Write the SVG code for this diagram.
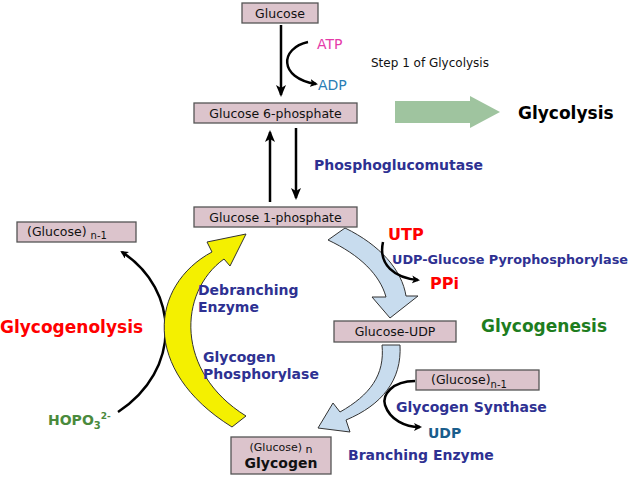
<svg xmlns="http://www.w3.org/2000/svg" width="638" height="477" viewBox="0 0 638 477">
<defs>
<style>
text{font-family:"DejaVu Sans",Verdana,sans-serif}
.box rect{fill:#dcc4cc;stroke:#555;stroke-width:1.3}
.bt{font-size:12.5px;fill:#111}
.en{font-size:14px;font-weight:bold;fill:#2e3192}
.ln{fill:none;stroke:#000;stroke-width:2.5}
</style>
<marker id="ah" markerWidth="8" markerHeight="8" refX="6" refY="4" orient="auto" markerUnits="userSpaceOnUse"><path d="M0,0 L8,4 L0,8 L2,4 Z" fill="#000"/></marker>
<marker id="ahs" markerWidth="12" markerHeight="10" refX="10" refY="5" orient="auto" markerUnits="userSpaceOnUse"><path d="M0,0 L12,5 L0,10 L3,5 Z" fill="#000"/></marker>
</defs>
<g id="connectors">
<line class="ln" x1="281" y1="25" x2="281" y2="95" marker-end="url(#ahs)"/>
<path class="ln" d="M308,42 C280,48 278,78 316,84" marker-end="url(#ah)"/>
<line class="ln" x1="270" y1="202" x2="270" y2="132" marker-end="url(#ahs)"/>
<line class="ln" x1="296" y1="128" x2="296" y2="198" marker-end="url(#ahs)"/>
<path d="M395,101 L470,101 L470,96 L500,112 L470,128 L470,123 L395,123 Z" fill="#9fc49f"/>
<path class="ln" d="M118,412 C182,370 180,290 122,252" marker-end="url(#ah)"/>
<path d="M232,427 C140,370 150,285 212,252 L207,242 L246,234 L230,266 L224,259 C178,292 175,372 246,416 Z" fill="#f4f000" stroke="#333" stroke-width="1"/>
<path d="M328,240 L345,228 C380,245 402,270 406,296 L418,296 L390,318 L372,297 L386,297 C380,275 360,255 328,240 Z" fill="#c8dcee" stroke="#333" stroke-width="1"/>
<path class="ln" d="M383,242 C378,265 395,278 418,280" marker-end="url(#ah)"/>
<path d="M382,345 L400,345 C402,380 382,405 346,420 L350,432 L318,428 L333,403 L340,412 C370,395 385,375 382,345 Z" fill="#c8dcee" stroke="#333" stroke-width="1"/>
<path class="ln" d="M415,381 C392,381 382,395 385,405 C390,420 405,427 420,427" marker-end="url(#ah)"/>
</g>
<g id="glucose" class="box"><rect x="242" y="3" width="76" height="20"/><text class="bt" x="280" y="17.5" text-anchor="middle">Glucose</text></g>
<g id="g6p" class="box"><rect x="194" y="103" width="163" height="20"/><text class="bt" x="275.5" y="117.5" text-anchor="middle">Glucose 6-phosphate</text></g>
<g id="g1p" class="box"><rect x="194" y="207" width="163" height="20"/><text class="bt" x="275.5" y="221.5" text-anchor="middle">Glucose 1-phosphate</text></g>
<g id="glcn1-left" class="box"><rect x="17" y="222" width="119" height="20"/><text class="bt" x="27" y="236">(Glucose) <tspan font-size="10" dy="3">n-1</tspan></text></g>
<g id="glcudp" class="box"><rect x="334" y="321" width="122" height="21"/><text class="bt" x="395" y="336" text-anchor="middle">Glucose-UDP</text></g>
<g id="glcn1-right" class="box"><rect x="416" y="370" width="123" height="20"/><text class="bt" x="431" y="384">(Glucose)<tspan font-size="10" dy="4">n-1</tspan></text></g>
<g id="glycogen" class="box"><rect x="231" y="437" width="100" height="37"/><text x="281" y="451" text-anchor="middle" font-size="11" fill="#111">(Glucose)<tspan dy="2" font-size="11"> n</tspan></text><text x="281" y="468" text-anchor="middle" font-size="14" font-weight="bold" fill="#111">Glycogen</text></g>
<g id="labels">
<text x="317" y="49" font-size="14" fill="#e53aa8">ATP</text>
<text x="318" y="90" font-size="14" fill="#2a7db5">ADP</text>
<text x="371" y="67" font-size="12" fill="#111">Step 1 of Glycolysis</text>
<text x="518" y="119" font-size="17" font-weight="bold" fill="#000">Glycolysis</text>
<text class="en" x="314" y="170">Phosphoglucomutase</text>
<text x="388" y="240" font-size="16" font-weight="bold" fill="#f00">UTP</text>
<text class="en" x="392" y="264" font-size="13" style="font-size:13px" textLength="236" lengthAdjust="spacingAndGlyphs">UDP-Glucose Pyrophosphorylase</text>
<text x="430" y="289" font-size="16" font-weight="bold" fill="#f00">PPi</text>
<text x="481" y="332" font-size="17" font-weight="bold" fill="#1e7d1e">Glycogenesis</text>
<text x="0" y="333" font-size="17" font-weight="bold" fill="#f00">Glycogenolysis</text>
<text class="en" x="198" y="295">Debranching</text>
<text class="en" x="198" y="312">Enzyme</text>
<text class="en" x="203" y="362">Glycogen</text>
<text class="en" x="203" y="379">Phosphorylase</text>
<text x="48" y="425" font-size="14" font-weight="bold" fill="#4a8a3c">HOPO<tspan font-size="10" dy="4">3</tspan><tspan font-size="9" dy="-10">2-</tspan></text>
<text class="en" x="396" y="412">Glycogen Synthase</text>
<text x="428" y="438" font-size="14" font-weight="bold" fill="#1a5d8c">UDP</text>
<text class="en" x="348" y="460">Branching Enzyme</text>
</g>
</svg>
